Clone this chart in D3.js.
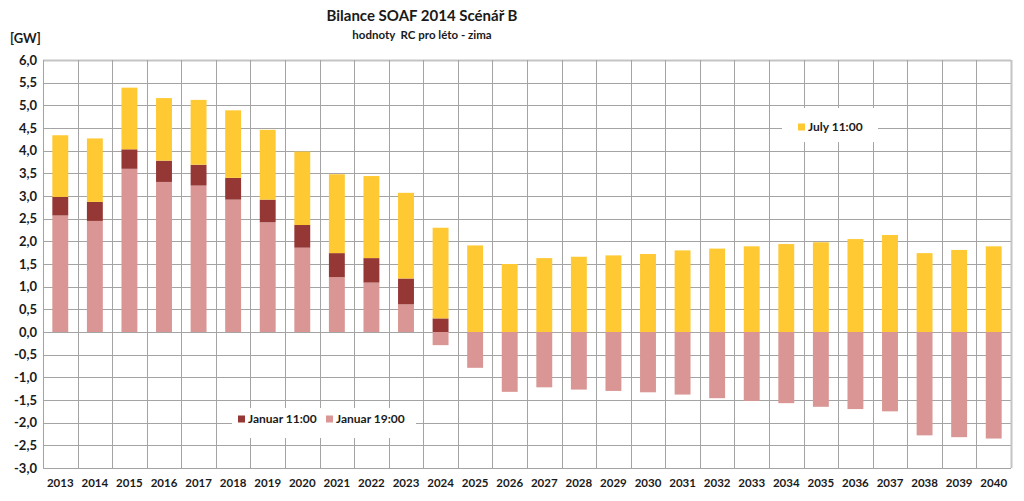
<!DOCTYPE html>
<html>
<head>
<meta charset="utf-8">
<script src="https://cdn.jsdelivr.net/npm/d3@7"></script>
<style>
  html, body { margin: 0; padding: 0; background: #fff; }
  svg { display: block; font-family: Lato, "Open Sans", sans-serif; }
  text { white-space: pre; }
</style>
</head>
<body>
<svg id="chart" width="1024" height="501"></svg>
<script>
// ---- data ----
const years = [2013,2014,2015,2016,2017,2018,2019,2020,2021,2022,2023,2024,2025,2026,2027,2028,2029,2030,2031,2032,2033,2034,2035,2036,2037,2038,2039,2040];
// stacked segment values [GW]
const januar1900 = [2.57,2.45,3.60,3.31,3.23,2.92,2.42,1.86,1.21,1.09,0.61,-0.29,-0.79,-1.32,-1.22,-1.27,-1.30,-1.33,-1.38,-1.46,-1.52,-1.57,-1.65,-1.70,-1.75,-2.28,-2.32,-2.35];
const januar1100 = [0.41,0.42,0.43,0.47,0.46,0.48,0.50,0.50,0.53,0.54,0.57,0.30,0,0,0,0,0,0,0,0,0,0,0,0,0,0,0,0];
const july1100   = [1.36,1.40,1.36,1.38,1.43,1.49,1.54,1.62,1.74,1.81,1.89,2.00,1.91,1.50,1.63,1.66,1.69,1.72,1.80,1.84,1.89,1.94,1.98,2.05,2.14,1.74,1.81,1.89];
const seriesNames = ["Januar 19:00", "Januar 11:00", "July 11:00"];
const yTicks = [-3,-2.5,-2,-1.5,-1,-0.5,0,0.5,1,1.5,2,2.5,3,3.5,4,4.5,5,5.5,6];
const title = "Bilance SOAF 2014 Scénář B";
const subtitle = "hodnoty  RC pro léto - zima";
const unitLabel = "[GW]";

// ---- setup ----
const colors = {"Januar 19:00": "#D99694", "Januar 11:00": "#953735", "July 11:00": "#FFC933"};
const svg = d3.select("#chart");
const L = 43, R = 1011, T = 60, B = 468;

const table = years.map((y, i) => ({year: y, "Januar 19:00": januar1900[i], "Januar 11:00": januar1100[i], "July 11:00": july1100[i]}));
const stack = d3.stack().keys(seriesNames).offset(d3.stackOffsetDiverging);
const stacked = stack(table);

const x = d3.scaleBand().domain(years).range([L, R]).paddingInner(0.54).paddingOuter(0.27);
const y = d3.scaleLinear().domain([-3, 6]).range([B, T]);
const locale = d3.formatLocale({decimal: ",", thousands: " ", grouping: [3], currency: ["", ""], minus: "-"});
const fmt = locale.format(".1f");
const half = (x.step() - x.bandwidth()) / 2;

// gridlines
const grid = svg.append("g");
grid.selectAll("line.h").data(yTicks).join("line")
  .attr("x1", L).attr("x2", R)
  .attr("y1", d => Math.round(y(d)) + 0.5).attr("y2", d => Math.round(y(d)) + 0.5)
  .attr("stroke", d => (d === 6) ? "#c4c4c4" : "#a4a4a4")
  .attr("stroke-width", d => (d === 6) ? 2 : 1);
const bounds = years.map(d => x(d) - half).concat([R]);
grid.selectAll("line.v").data(bounds).join("line")
  .attr("x1", d => Math.round(d) + 0.5).attr("x2", d => Math.round(d) + 0.5)
  .attr("y1", T).attr("y2", B)
  .attr("stroke", (d, i) => i === bounds.length - 1 ? "#c4c4c4" : "#a4a4a4")
  .attr("stroke-width", (d, i) => i === bounds.length - 1 ? 2 : 1);

// bars
svg.append("g").selectAll("g").data(stacked).join("g")
  .attr("fill", s => colors[s.key])
  .selectAll("rect").data(s => s.filter(d => d[1] !== d[0])).join("rect")
  .attr("x", d => x(d.data.year))
  .attr("width", x.bandwidth())
  .attr("y", d => y(Math.max(d[0], d[1])))
  .attr("height", d => Math.abs(y(d[0]) - y(d[1])));

// y axis labels
const yAxis = d3.axisLeft(y).tickValues(yTicks).tickFormat(fmt).tickSize(0).tickPadding(6);
const ya = svg.append("g").attr("transform", `translate(${L},0)`).call(yAxis);
ya.select(".domain").remove();
ya.selectAll("text").attr("font-family", "Lato, sans-serif").attr("font-weight", "bold").attr("font-size", 13).attr("fill", "#1a1a1a");

// x axis labels
const xAxis = d3.axisBottom(x).tickSize(0).tickPadding(11);
const xa = svg.append("g").attr("transform", `translate(0,${B})`).call(xAxis);
xa.select(".domain").remove();
xa.selectAll("text").attr("font-family", "Lato, sans-serif").attr("font-weight", "bold").attr("font-size", 11.5).attr("fill", "#1a1a1a");

// titles
svg.append("text").attr("x", 422).attr("y", 21).attr("text-anchor", "middle")
  .attr("font-weight", "bold").attr("font-size", 15).attr("fill", "#1a1a1a").text(title);
svg.append("text").attr("x", 422).attr("y", 39).attr("text-anchor", "middle")
  .attr("font-weight", "bold").attr("font-size", 11.5).attr("fill", "#1a1a1a").text(subtitle);
svg.append("text").attr("x", 10).attr("y", 43)
  .attr("font-weight", "bold").attr("font-size", 13).attr("fill", "#1a1a1a").text(unitLabel);

// legends
function legend(bx, by, bw, bh, entries) {
  const g = svg.append("g");
  g.append("rect").attr("x", bx).attr("y", by).attr("width", bw).attr("height", bh).attr("fill", "#fff");
  entries.forEach(e => {
    g.append("rect").attr("x", e.mx).attr("y", e.cy - 3.5).attr("width", 7).attr("height", 7).attr("fill", colors[e.key]);
    g.append("text").attr("x", e.mx + 10).attr("y", e.cy).attr("dy", "0.35em")
      .attr("font-weight", "bold").attr("font-size", 12).attr("fill", "#1a1a1a").text(e.key);
  });
}
legend(782, 108, 96, 34, [{key: "July 11:00", mx: 798, cy: 127}]);
legend(232, 408, 184, 30, [{key: "Januar 11:00", mx: 238, cy: 419}, {key: "Januar 19:00", mx: 326, cy: 419}]);
</script>
</body>
</html>
